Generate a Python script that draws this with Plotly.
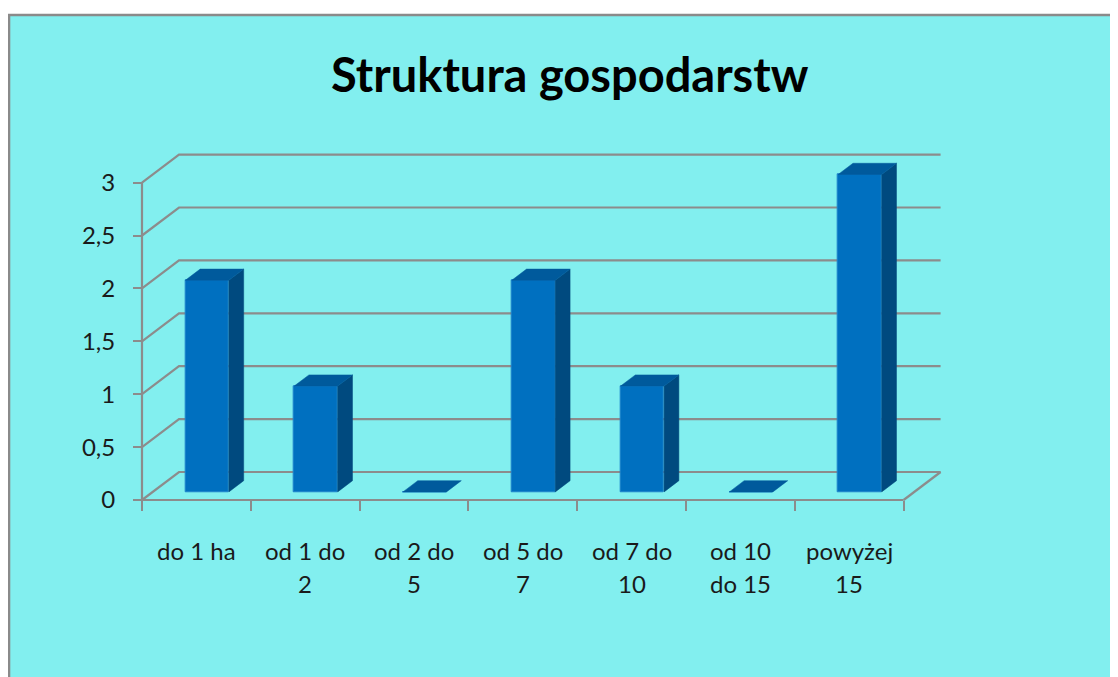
import plotly.graph_objects as go

# ---- data ----
categories = ["do 1 ha", "od 1 do 2", "od 2 do 5", "od 5 do 7", "od 7 do 10", "od 10 do 15", "powyżej 15"]
label_line1 = ["do 1 ha", "od 1 do", "od 2 do", "od 5 do", "od 7 do", "od 10", "powyżej"]
label_line2 = ["", "2", "5", "7", "10", "do 15", "15"]
values = [2, 1, 0, 2, 1, 0, 3]
y_ticks = [0, 0.5, 1, 1.5, 2, 2.5, 3]
y_tick_labels = ["0", "0,5", "1", "1,5", "2", "2,5", "3"]
title_text = "Struktura gospodarstw"

# ---- layout geometry ----
W, H = 1118, 677
OFF = 8                    # page body margin offset
PX0, CW = 142 - OFF, 108.8  # pixel of x=0, pixels per category
PY0, VH = 500 - OFF, 105.8  # pixel of y=0, pixels per unit
DX, DY = 37 / CW, 28 / VH   # 3D depth offset in data units
ZF, ZD = 0.29, 0.40         # bar front depth fraction, bar depth fraction
BW = 0.40                   # bar width (category units)

xr = [-0.15, 7.6]
yr = [-0.12, 3.4]
xd = [(PX0 + xr[0] * CW) / W, (PX0 + xr[1] * CW) / W]
yd = [1 - (PY0 - yr[0] * VH) / H, 1 - (PY0 - yr[1] * VH) / H]

FONT = "Lato, 'Open Sans', sans-serif"
GRID = "#8C8C8C"
FRONT, SIDE, TOP = "#0070C0", "#004A7F", "#005A9C"
TXT = "#1A1A1A"

n = len(categories)
fig = go.Figure()

# front faces
fig.add_trace(go.Bar(
    x=[i + 0.5 + ZF * DX for i in range(n)],
    y=values,
    base=[ZF * DY] * n,
    width=BW,
    marker=dict(color=FRONT, line=dict(color="#1E84CC", width=1)),
    hoverinfo="skip", showlegend=False,
))

# side and top faces
for i, v in enumerate(values):
    xl = i + 0.5 + ZF * DX - BW / 2
    xrt = xl + BW
    b = ZF * DY
    ox, oy = ZD * DX, ZD * DY
    if v > 0:
        fig.add_trace(go.Scatter(
            x=[xrt, xrt, xrt + ox, xrt + ox, xrt],
            y=[b, b + v, b + v + oy, b + oy, b],
            mode="lines", fill="toself", fillcolor=SIDE,
            line=dict(color=SIDE, width=0.5),
            hoverinfo="skip", showlegend=False))
    fig.add_trace(go.Scatter(
        x=[xl, xrt, xrt + ox, xl + ox, xl],
        y=[b + v, b + v, b + v + oy, b + v + oy, b + v],
        mode="lines", fill="toself", fillcolor=TOP,
        line=dict(color=TOP, width=0.5),
        hoverinfo="skip", showlegend=False))

shapes = [
    dict(type="rect", xref="paper", yref="paper", layer="below",
         x0=(9 - OFF) / W, x1=1.2, y0=-0.2, y1=1 - (15 - OFF) / H,
         fillcolor="#82EFEF", line=dict(color="#8A8A8A", width=2.6)),
]
# gridlines (side wall + back wall)
for t in y_ticks:
    shapes.append(dict(type="path", xref="x", yref="y", layer="below",
                       path=f"M 0,{t} L {DX},{t + DY} L {n + DX},{t + DY}",
                       line=dict(color=GRID, width=2.2)))
# axis lines and floor edge
shapes.append(dict(type="line", xref="x", yref="y", layer="below",
                   x0=0, y0=0, x1=0, y1=y_ticks[-1], line=dict(color=GRID, width=2.2)))
shapes.append(dict(type="line", xref="x", yref="y", layer="below",
                   x0=0, y0=0, x1=n, y1=0, line=dict(color=GRID, width=2.2)))
shapes.append(dict(type="line", xref="x", yref="y", layer="below",
                   x0=n, y0=0, x1=n + DX, y1=DY, line=dict(color=GRID, width=2.2)))

annotations = [dict(text=f"<b>{title_text}</b>", xref="paper", yref="paper",
                    x=(570 - OFF) / W, y=1 - (74 - OFF) / H, showarrow=False,
                    font=dict(family=FONT, size=47, color="#000000"),
                    xanchor="center", yanchor="middle")]
for i in range(n):
    annotations.append(dict(text=label_line1[i], xref="x", yref="paper",
                            x=i + 0.5, y=1 - (550 - OFF) / H, showarrow=False,
                            font=dict(family=FONT, size=24, color=TXT),
                            xanchor="center", yanchor="middle"))
    if label_line2[i]:
        annotations.append(dict(text=label_line2[i], xref="x", yref="paper",
                                x=i + 0.5, y=1 - (583 - OFF) / H, showarrow=False,
                                font=dict(family=FONT, size=24, color=TXT),
                                xanchor="center", yanchor="middle"))

fig.update_layout(
    width=W, height=H,
    margin=dict(l=0, r=0, t=0, b=0),
    paper_bgcolor="white", plot_bgcolor="rgba(0,0,0,0)",
    bargap=0, showlegend=False,
    shapes=shapes, annotations=annotations,
    xaxis=dict(range=xr, domain=xd, anchor="free", position=1 - PY0 / H,
               showgrid=False, zeroline=False, showline=False,
               tickvals=list(range(n + 1)), showticklabels=False,
               ticks="outside", ticklen=10, tickwidth=2.2, tickcolor=GRID),
    yaxis=dict(range=yr, domain=yd, anchor="free", position=PX0 / W,
               showgrid=False, zeroline=False, showline=False,
               tickvals=y_ticks, ticktext=y_tick_labels,
               ticks="outside", ticklen=9, tickwidth=2.2, tickcolor=GRID,
               ticklabelstandoff=13,
               tickfont=dict(family=FONT, size=24, color=TXT)),
)

fig.write_html("out.html")
